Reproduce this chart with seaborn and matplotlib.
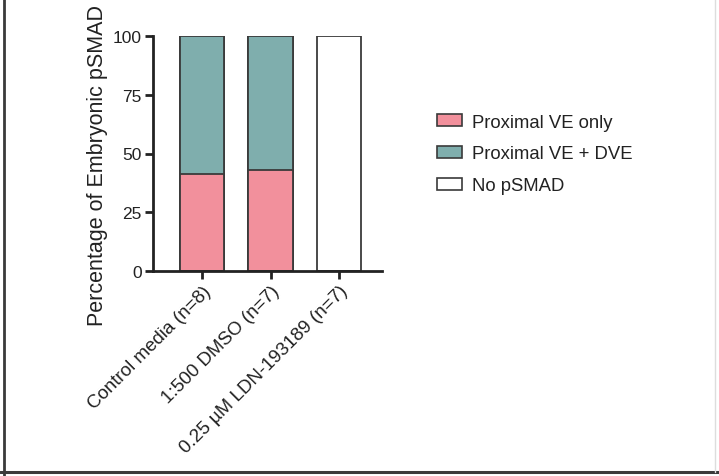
import numpy as np
import pandas as pd
import matplotlib
matplotlib.use("Agg")
import matplotlib.pyplot as plt
from matplotlib.patches import Patch
from matplotlib.lines import Line2D
import seaborn as sns

categories = ["Control media (n=8)", "1:500 DMSO (n=7)", "0.25 µM LDN-193189 (n=7)"]
proximal_ve_only = [41.4, 42.9, 0.0]
proximal_ve_dve = [58.6, 57.1, 0.0]
no_psmad = [0.0, 0.0, 100.0]
series_names = ["Proximal VE only", "Proximal VE + DVE", "No pSMAD"]
series_colors = ["#F2909C", "#7FAEAD", "#FFFFFF"]
y_ticks = [0, 25, 50, 75, 100]

sns.set_theme(style="white")
plt.rcParams["font.family"] = ["Liberation Sans", "DejaVu Sans"]

df = pd.DataFrame({
    "group": categories,
    "s1": proximal_ve_only,
    "s2": proximal_ve_dve,
    "s3": no_psmad,
})
df["c1"] = df["s1"]
df["c2"] = df["s1"] + df["s2"]
df["c3"] = df["c2"] + df["s3"]

W, H = 719, 477
fig = plt.figure(figsize=(W / 100, H / 100), dpi=100)
ax = fig.add_axes([153 / W, 1 - 272 / H, (382 - 153) / W, (272 - 37) / H])

edge = "#3a3a3a"
for col, color in [("c3", series_colors[2]), ("c2", series_colors[1]), ("c1", series_colors[0])]:
    sns.barplot(data=df, x="group", y=col, color=color, saturation=1, width=0.65,
                edgecolor=edge, linewidth=1.3, ax=ax, order=categories)

ax.set_xlim(-0.72, 2.63)
ax.set_ylim(0, 100)
ax.set_yticks(y_ticks)
ax.set_yticklabels([str(v) for v in y_ticks], fontsize=12.5, color="#222222")
ax.set_xticks(range(len(categories)))
ax.set_xticklabels(categories, rotation=45, ha="right", rotation_mode="anchor",
                   fontsize=13.5, color="#222222")
ax.set_xlabel("")
ax.set_ylabel("Percentage of Embryonic pSMAD", fontsize=15.5, color="#222222")
ax.yaxis.set_label_coords((108 - 153) / 229, (272 - 165.5) / 235)

for s in ["top", "right"]:
    ax.spines[s].set_visible(False)
for s in ["left", "bottom"]:
    ax.spines[s].set_linewidth(2)
    ax.spines[s].set_color("#222222")
ax.tick_params(axis="both", direction="out", length=6, width=2, color="#222222", pad=2,
               left=True, bottom=True)
ax.set_facecolor("white")

handles = [Patch(facecolor=c, edgecolor=edge, linewidth=1.2) for c in series_colors]
fig.legend(handles, series_names, loc="upper left", bbox_to_anchor=(420 / W, 1 - 98 / H),
           frameon=False, fontsize=13.3, handlelength=1.35, handleheight=0.6,
           handletextpad=0.55, labelspacing=0.8, labelcolor="#222222")

# outer frame
fig.add_artist(Line2D([4 / W, 4 / W], [0, 1], transform=fig.transFigure,
                      color="#3a3a3a", linewidth=2))
fig.add_artist(Line2D([0, 1], [1 - 473 / H, 1 - 473 / H], transform=fig.transFigure,
                      color="#3a3a3a", linewidth=2.2))
fig.add_artist(Line2D([715 / W, 715 / W], [1 - 473 / H, 1], transform=fig.transFigure,
                      color="#dddddd", linewidth=1))

fig.savefig("out.png", dpi=100, facecolor="white")
